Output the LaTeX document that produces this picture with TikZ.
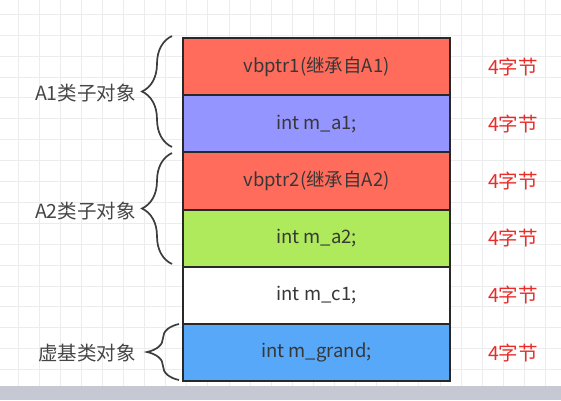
\documentclass[tikz,border=0pt]{standalone}
\usepackage{fontspec}
\setmainfont{Noto Sans CJK SC}
\usetikzlibrary{decorations.pathreplacing}
\definecolor{cred}{RGB}{255,108,92}
\definecolor{cpurple}{RGB}{149,149,255}
\definecolor{cgreen}{RGB}{174,234,92}
\definecolor{cblue}{RGB}{88,168,250}
\definecolor{boxline}{RGB}{40,40,40}
\definecolor{txt}{RGB}{55,55,55}
\definecolor{lbltxt}{RGB}{70,70,70}
\definecolor{redtxt}{RGB}{232,45,40}
\definecolor{gridc}{RGB}{234,236,238}
\definecolor{bandc}{RGB}{198,200,212}
\begin{document}
\begin{tikzpicture}[x=1pt,y=-1pt,
  cell/.style={draw=boxline, line width=2pt, minimum width=267pt, minimum height=57.2pt,
    inner sep=0pt, anchor=north west, font=\fontsize{18.5}{22}\selectfont, text=txt},
  sidelbl/.style={anchor=east, font=\fontsize{19.5}{23}\selectfont, text=lbltxt, inner sep=0pt},
  bytelbl/.style={font=\fontsize{19.5}{23}\selectfont, text=redtxt, inner sep=0pt},
  bracestyle/.style={draw=boxline!90, line width=1.7pt, decorate,
    decoration={brace, amplitude=30pt, aspect=0.5}}]
\useasboundingbox (0,0) rectangle (561,400);
\fill[white] (0,0) rectangle (561,400);
% grid
\foreach \i in {0,...,25} {\draw[gridc, line width=1pt] (18+21.1*\i,0) -- (18+21.1*\i,386);}
\foreach \j in {0,...,18} {\draw[gridc, line width=1pt] (0,14.3+20.9*\j) -- (561,14.3+20.9*\j);}
% bottom band
\fill[bandc] (0,386) rectangle (561,400);
% cells
\node[cell, fill=cred]    (r1) at (182,37)    {vbptr1(继承自A1)};
\node[cell, fill=cpurple] (r2) at (182,94.2)  {int m\_a1;};
\node[cell, fill=cred]    (r3) at (182,151.4) {vbptr2(继承自A2)};
\node[cell, fill=cgreen]  (r4) at (182,208.6) {int m\_a2;};
\node[cell, fill=white]   (r5) at (182,265.8) {int m\_c1;};
\node[cell, fill=cblue]   (r6) at (182,323)   {int m\_grand;};
% byte labels
\coordinate (rc) at (513,0);
\node[bytelbl] (s1) at (r1 -| rc) {4字节};
\node[bytelbl] (s2) at (r2 -| rc) {4字节};
\node[bytelbl] (s3) at (r3 -| rc) {4字节};
\node[bytelbl] (s4) at (r4 -| rc) {4字节};
\node[bytelbl] (s5) at (r5 -| rc) {4字节};
\node[bytelbl] (s6) at (r6 -| rc) {4字节};
% braces
\coordinate (b1s) at (172,147);
\coordinate (b1e) at (172,36);
\coordinate (b2s) at (172,264);
\coordinate (b2e) at (172,153);
\coordinate (b3s) at (179,380);
\coordinate (b3e) at (179,324);
\draw[bracestyle] (b1s) -- (b1e);
\draw[bracestyle] (b2s) -- (b2e);
\draw[bracestyle, decoration={brace, amplitude=32pt, aspect=0.5}] (b3s) -- (b3e);
% side labels
\node[sidelbl] (l1) at (136,93)  {A1类子对象};
\node[sidelbl] (l2) at (136,211) {A2类子对象};
\node[sidelbl] (l3) at (136,353) {虚基类对象};
\end{tikzpicture}
\end{document}
